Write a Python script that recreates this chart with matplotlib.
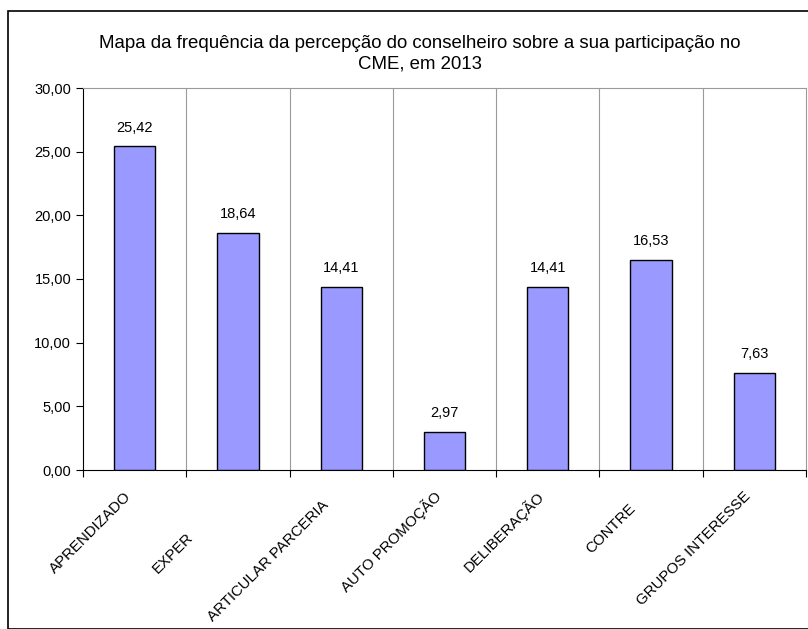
import numpy as np
import matplotlib.pyplot as plt
from matplotlib.patches import Rectangle

categories = ["APRENDIZADO", "EXPER", "ARTICULAR PARCERIA", "AUTO PROMOÇÃO",
              "DELIBERAÇÃO", "CONTRE", "GRUPOS INTERESSE"]
values = [25.42, 18.64, 14.41, 2.97, 14.41, 16.53, 7.63]
yticks = [0, 5, 10, 15, 20, 25, 30]

# how far each rotated label slides down along its diagonal (pixels), as in the source
label_slide = [0, 58, 13, 0, 0, 17, 0]


def fmt(v):
    return "{:.2f}".format(v).replace(".", ",")


def main():
    plt.rcParams['font.family'] = ['Liberation Sans', 'DejaVu Sans']
    fig = plt.figure(figsize=(8.08, 6.29), dpi=100)
    fig.patches.append(Rectangle((8 / 808, 0), 1.0, 1 - 11 / 629, transform=fig.transFigure,
                                 fill=False, edgecolor='black', linewidth=1.2))
    ax = fig.add_axes([83 / 808, 1 - 470 / 629, 723 / 808, 382 / 629])

    x = np.arange(len(categories))
    ax.bar(x, values, width=0.4, color='#9999FF', edgecolor='black', linewidth=1.0, zorder=3)
    for xi, v in zip(x, values):
        ax.annotate(fmt(v), (xi, v), xytext=(0, 13.5), textcoords='offset points',
                    ha='center', va='center', fontsize=10.5)

    ax.set_xlim(-0.5, len(categories) - 0.5)
    ax.set_ylim(0, 30)
    ax.set_yticks(yticks)
    ax.set_yticklabels([fmt(t) for t in yticks], fontsize=10.5)

    # category boundaries as vertical grid lines
    bounds = np.arange(-0.5, len(categories) + 0.5, 1.0)
    for b in bounds[1:-1]:
        ax.axvline(b, color='#9a9a9a', linewidth=0.8, zorder=1)
    ax.set_xticks(bounds)
    ax.set_xticklabels([])
    ax.tick_params(axis='x', length=5, direction='out')
    ax.tick_params(axis='y', length=5, direction='out')
    for xi, lab, s in zip(x, categories, label_slide):
        d = s / np.sqrt(2)
        ax.annotate(lab, (xi, 0), xytext=(-6 - d, -24 - d), textcoords='offset pixels',
                    rotation=45, ha='right', va='center', rotation_mode='anchor',
                    fontsize=10.8, annotation_clip=False)

    for s in ['top', 'right']:
        ax.spines[s].set_color('#9a9a9a')
        ax.spines[s].set_linewidth(0.8)

    fig.text(420 / 808, 1 - 43 / 629, "Mapa da frequência da percepção do conselheiro sobre a sua participação no",
             ha='center', va='center', fontsize=13.4)
    fig.text(420 / 808, 1 - 64 / 629, "CME, em 2013", ha='center', va='center', fontsize=13.4)

    plt.savefig("out.png", dpi=100)


if __name__ == "__main__":
    main()
